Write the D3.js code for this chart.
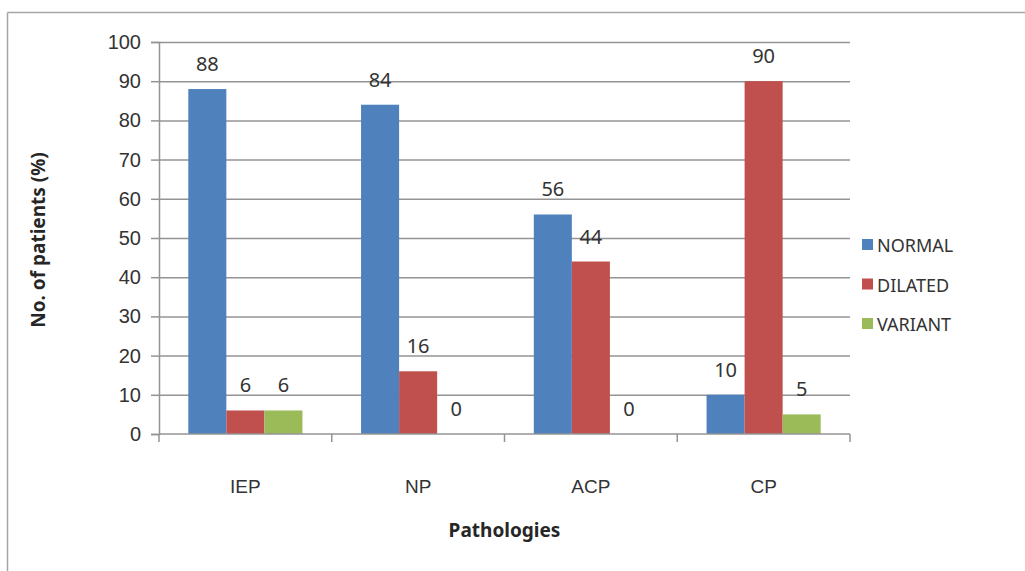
<!DOCTYPE html>
<html>
<head>
<meta charset="utf-8">
<script src="https://cdn.jsdelivr.net/npm/d3@7"></script>
<style>
  html, body { margin: 0; padding: 0; background: #fff; }
  svg { display: block; font-family: "Noto Sans", "Open Sans", sans-serif; }
</style>
</head>
<body>
<svg id="chart" width="1025" height="571"></svg>
<script>
// Pathology groups on the x axis
const categories = ["IEP", "NP", "ACP", "CP"];
// Series shown in the legend
const seriesNames = ["NORMAL", "DILATED", "VARIANT"];
// Percent of patients per pathology, one array per series
const normalValues = [88, 84, 56, 10];
const dilatedValues = [6, 16, 44, 90];
const variantValues = [6, 0, 0, 5];
const yTicks = [0, 10, 20, 30, 40, 50, 60, 70, 80, 90, 100];
const colors = ["#4F81BD", "#C0504D", "#9BBB59"];

const seriesValues = [normalValues, dilatedValues, variantValues];

const svg = d3.select("#chart");

// Outer chart frame (top and left edges visible)
svg.append("line").attr("x1", 7.5).attr("x2", 1025).attr("y1", 12.5).attr("y2", 12.5)
  .attr("stroke", "#a6a6a6").attr("stroke-width", 1.5);
svg.append("line").attr("x1", 7.5).attr("x2", 7.5).attr("y1", 12.5).attr("y2", 571)
  .attr("stroke", "#a6a6a6").attr("stroke-width", 1.5);

const plot = { left: 159, right: 850, top: 42, bottom: 434 };

const x = d3.scaleBand().domain(categories).range([plot.left, plot.right]).paddingInner(0).paddingOuter(0);
const inner = d3.scaleBand().domain(d3.range(seriesNames.length))
  .range([0, x.bandwidth()]).paddingInner(0).paddingOuter(0.77);
const y = d3.scaleLinear().domain([0, 100]).range([plot.bottom, plot.top]);

// Horizontal gridlines
svg.append("g").selectAll("line").data(yTicks.filter(d => d > 0)).join("line")
  .attr("x1", plot.left).attr("x2", plot.right)
  .attr("y1", d => y(d) + 0.5).attr("y2", d => y(d) + 0.5)
  .attr("stroke", "#949494").attr("stroke-width", 1.5);

// Y axis
const yAxis = svg.append("g").attr("transform", `translate(${plot.left},0)`)
  .call(d3.axisLeft(y).tickValues(yTicks).tickSize(8).tickPadding(10).tickFormat(d3.format("d")));
yAxis.select(".domain").attr("stroke", "#949494").attr("stroke-width", 1.5);
yAxis.selectAll(".tick line").attr("stroke", "#949494").attr("stroke-width", 1.5);
yAxis.selectAll(".tick text").attr("font-size", 20).attr("fill", "#333").style("font-family", "inherit");

// Bars
const groups = svg.append("g").selectAll("g").data(categories).join("g")
  .attr("transform", d => `translate(${x(d)},0)`);

groups.selectAll("rect")
  .data((c, ci) => seriesValues.map((vals, si) => ({ si, v: vals[ci] })))
  .join("rect")
  .attr("x", d => inner(d.si))
  .attr("width", inner.bandwidth())
  .attr("y", d => y(d.v))
  .attr("height", d => y(0) - y(d.v))
  .attr("fill", d => colors[d.si]);

// Value labels above bars
groups.selectAll("text")
  .data((c, ci) => seriesValues.map((vals, si) => ({ si, v: vals[ci] })))
  .join("text")
  .attr("x", d => inner(d.si) + inner.bandwidth() / 2)
  .attr("y", d => y(d.v) - 18)
  .attr("text-anchor", "middle")
  .attr("font-size", 20)
  .attr("fill", "#333")
  .text(d => d.v);

// X axis
const xAxis = svg.append("g").attr("transform", `translate(0,${plot.bottom})`)
  .call(d3.axisBottom(x).tickSize(0).tickPadding(46));
xAxis.select(".domain").attr("stroke", "#949494").attr("stroke-width", 1.5)
  .attr("d", `M${plot.left},0H${plot.right}`);
xAxis.selectAll(".tick text").attr("font-size", 19).attr("fill", "#333").style("font-family", "inherit");
// Category separator ticks
svg.append("g").selectAll("line")
  .data(categories.map(c => x(c)).concat([plot.right]))
  .join("line")
  .attr("x1", d => d).attr("x2", d => d)
  .attr("y1", plot.bottom).attr("y2", plot.bottom + 8)
  .attr("stroke", "#949494").attr("stroke-width", 1.5);

// Axis titles
svg.append("text")
  .attr("transform", `translate(45,${(plot.top + plot.bottom) / 2 + 2}) rotate(-90)`)
  .attr("text-anchor", "middle").attr("font-size", 19).attr("font-weight", "bold").attr("fill", "#262626")
  .text("No. of patients (%)");
svg.append("text")
  .attr("x", (plot.left + plot.right) / 2).attr("y", 537)
  .attr("text-anchor", "middle").attr("font-size", 19).attr("font-weight", "bold").attr("fill", "#262626")
  .text("Pathologies");

// Legend
const legend = svg.append("g").attr("transform", "translate(862,245)");
const items = legend.selectAll("g").data(seriesNames).join("g")
  .attr("transform", (d, i) => `translate(0,${i * 39.5})`);
items.append("rect").attr("x", 0).attr("y", -6).attr("width", 11).attr("height", 11)
  .attr("fill", (d, i) => colors[i]);
items.append("text").attr("x", 15).attr("y", 7).attr("font-size", 18).attr("fill", "#333").text(d => d);
</script>
</body>
</html>
